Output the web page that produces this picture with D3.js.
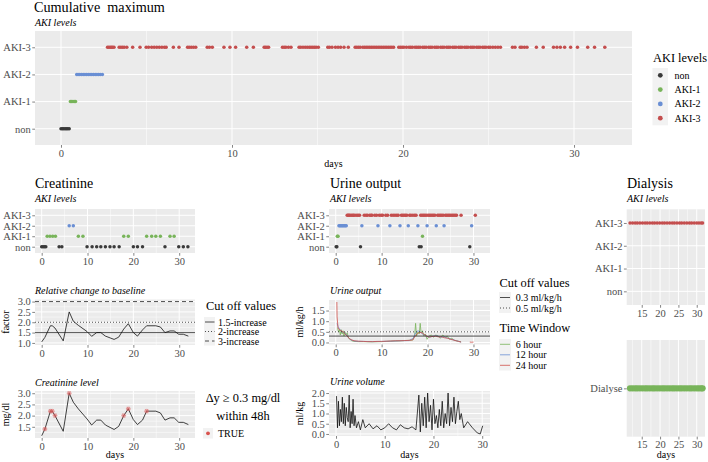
<!DOCTYPE html>
<html><head><meta charset="utf-8">
<script src="https://cdn.jsdelivr.net/npm/d3@7"></script>
<style>
body{margin:0;background:#fff;}
svg text{font-family:'Liberation Serif','Times New Roman',serif !important;}
</style></head><body>
<script>
// ---------------- DATA ----------------
const akiLevels = ['non','AKI-1','AKI-2','AKI-3'];
const akiColors = ['#3a3a3a','#78b45a','#6a8fd4','#c44e4e'];

// Cumulative maximum (time in days per AKI level)
const cumNonT  = [0.0, 0.08, 0.16, 0.24, 0.32, 0.4, 0.48];
const cumAki1T = [0.55, 0.62, 0.7, 0.78, 0.85];
const cumAki2T = [0.92, 1.0, 1.1, 1.2, 1.3, 1.4, 1.5, 1.6, 1.7, 1.8, 1.9, 2.0, 2.1, 2.2, 2.3, 2.42];
const cumAki3T = [2.72, 2.8, 2.88, 2.95, 3.02, 3.1, 3.4, 3.5, 3.6, 3.7, 3.85, 4.19, 4.62, 4.98, 5.12, 5.3, 5.45, 5.6, 5.75, 5.9, 6.05, 6.15,
  6.57, 6.9, 7.4, 7.5, 7.62, 7.75, 7.88, 8.55, 8.68, 8.85, 9.53, 9.88, 10.21, 10.86, 11.25, 11.88, 11.96, 12.05, 12.14,
  12.95, 13.05, 13.15, 13.3, 13.45, 13.92, 14.02, 14.15, 14.28, 14.4, 14.52, 14.62, 14.72, 14.82, 14.92, 15.05, 15.6, 15.7, 15.85,
  16.05, 16.2, 16.35, 16.55, 16.8, 17.2, 17.3, 17.4, 17.5, 17.65, 17.75, 17.85, 17.95, 18.05, 18.15, 18.25, 18.35, 18.45, 18.55,
  18.65, 18.75, 18.85, 18.95, 19.05, 19.15, 19.25, 19.35, 19.45, 19.75, 19.85, 19.95, 20.05, 20.2, 20.35, 20.45, 20.55, 20.7, 20.8,
  20.9, 21.0, 21.15, 21.25, 21.35, 21.5, 21.6, 21.7, 21.85, 21.95, 22.05, 22.2, 22.3, 22.4, 22.55, 22.65, 22.75, 22.9, 23.0, 23.1,
  23.25, 23.35, 23.45, 23.6, 23.7, 23.8, 23.95, 24.05, 24.15, 24.3, 24.4, 24.5, 24.65, 24.75, 24.85, 25.0, 25.1, 25.25, 25.4, 25.55,
  25.7, 26.4, 26.55, 26.85, 26.95, 27.1, 27.25, 27.8, 28.2, 28.8, 29.0, 29.2, 29.45, 29.8, 30.2, 30.8, 31.2, 31.8];

// Creatinine: AKI levels
const creaNonT  = [0.0, 0.3, 0.6, 0.9, 3.8, 4.4, 9.9, 11.0, 12.0, 12.9, 13.9, 14.9, 15.8, 16.9, 20.0, 20.9, 22.0, 26.9, 29.9, 30.9, 31.9];
const creaAki1T = [1.2, 1.8, 2.4, 3.0, 8.0, 9.0, 17.9, 18.9, 22.9, 24.0, 24.9, 25.9, 28.0, 28.9];
const creaAki2T = [6.0, 6.9];
const creaAki3T = [];

// Creatinine measurements
const creaT     = [0, 0.7, 1.9, 2.3, 2.9, 4.7, 6, 6.9, 8, 9.9, 10.9, 12, 12.9, 13.9, 15.8, 16.8, 17.9, 18.9, 20, 20.9, 22, 22.9, 24.9, 25.9, 26.9, 28, 28.9, 29.9, 30.9, 32];
const creaLevel = [1.1, 1.4, 2.2, 2.2, 2.0, 1.3, 3.0, 2.6, 2.3, 1.85, 1.58, 1.8, 1.8, 1.58, 1.38, 1.52, 2.0, 2.3, 1.82, 1.6, 1.8, 2.2, 2.2, 2.12, 1.8, 1.9, 1.9, 1.7, 1.7, 1.6];
const creaRel   = [1.05, 1.27, 1.83, 1.83, 1.72, 1.1, 2.5, 2.05, 1.85, 1.55, 1.32, 1.5, 1.5, 1.33, 1.17, 1.28, 1.67, 1.93, 1.5, 1.33, 1.63, 1.83, 1.83, 1.77, 1.5, 1.58, 1.58, 1.42, 1.42, 1.33];
const creaFlag  = [false, true, true, true, true, false, true, false, false, false, false, false, false, false, false, false, true, true, false, false, false, true, false, false, false, false, false, false, false, false];
const relCutValues = [1.5, 2, 3];
const relCutLabels = ['1.5-increase', '2-increase', '3-increase'];

// Urine output: AKI levels
const urNonT  = [0.1, 0.25, 5.4, 18.2, 18.6, 29.2];
const urAki1T = [0.35, 0.5, 18.9];
const urAki2T = [0.7, 0.9, 1.1, 1.3, 1.5, 1.7, 1.9, 2.1, 2.3, 5.7, 9.2, 11.8, 14.0, 15.8, 17.9, 19.9, 21.9, 23.6, 29.6];
const urAki3T = [2.5, 2.7, 2.9, 3.1, 3.4, 3.7, 3.9, 4.2, 4.6, 4.9, 5.2, 6.2, 6.6, 6.9, 7.4, 7.7, 7.9, 8.5, 8.9, 9.5, 9.9, 10.2,
  10.9, 11.3, 12.1, 12.5, 12.9, 13.3, 13.6, 14.3, 14.6, 14.9, 15.2, 15.5, 16.1, 16.4, 16.8, 17.2, 17.5, 18.5, 18.8, 19.1, 19.4,
  19.7, 20.1, 20.4, 20.7, 21.0, 21.3, 21.6, 22.2, 22.5, 22.8, 23.1, 23.4, 23.9, 24.2, 24.5, 24.8, 25.1, 25.4, 25.7, 26.0, 26.3, 27.3, 30.4];

// Urine output (ml/kg/h) per time window
const u6T  = [0.4, 0.6, 0.8, 1.0, 1.2, 1.4, 1.6, 1.8, 2.0, 2.2, 2.5, 2.8, 3.1, 3.5, 4.0, 5, 6, 8, 10, 12, 14, 16, 16.8, 17.2, 17.4, 17.6, 17.9, 18.2, 18.4, 18.6, 18.9, 19.2, 19.5, 19.9, 20.3, 20.8, 21.3, 21.8, 22.3, 22.8, 23.3, 23.8, 24.3, 24.8, 25.3, 25.8, 26.3, 26.8, 27.3];
const u6V  = [0.7, 0.5, 0.6, 0.35, 0.6, 0.4, 0.55, 0.3, 0.5, 0.35, 0.45, 0.2, 0.15, 0.08, 0.05, 0.04, 0.04, 0.03, 0.04, 0.06, 0.08, 0.1, 0.12, 0.35, 0.9, 0.3, 0.5, 0.4, 0.9, 0.45, 0.55, 0.3, 0.4, 0.15, 0.3, 0.35, 0.25, 0.35, 0.3, 0.2, 0.35, 0.25, 0.3, 0.15, 0.2, 0.1, 0.08, 0.05, 0.03];
const u12T = [0.3, 0.5, 0.8, 1.1, 1.5, 1.9, 2.3, 2.7, 3.1, 3.6, 4.2, 5, 6, 8, 10, 12, 14, 16, 16.9, 17.4, 17.9, 18.4, 18.9, 19.4, 19.9, 20.5, 21.2, 22, 22.8, 23.6, 24.4, 25.2, 26, 26.8, 27.3];
const u12V = [0.9, 0.75, 0.65, 0.55, 0.5, 0.45, 0.38, 0.25, 0.15, 0.1, 0.06, 0.05, 0.05, 0.04, 0.05, 0.06, 0.08, 0.09, 0.2, 0.45, 0.55, 0.5, 0.4, 0.35, 0.28, 0.25, 0.3, 0.32, 0.25, 0.27, 0.2, 0.15, 0.1, 0.05, 0.02];
const u24T = [0.25, 0.3, 0.5, 0.8, 1.2, 1.6, 2.0, 2.5, 3.0, 3.5, 4, 5, 6, 7, 8, 9, 10, 11, 12, 13, 14, 15, 16, 16.8, 17.3, 17.8, 18.3, 18.8, 19.3, 19.8, 20.3, 21, 21.7, 22.4, 23, 23.7, 24.4, 25, 25.6, 26.2, 26.8, 27.3, 28.2, 29.2, 29.6, 30.0];
const u24V = [1.9, 1.2, 0.7, 0.6, 0.55, 0.5, 0.42, 0.3, 0.18, 0.12, 0.08, 0.06, 0.05, 0.04, 0.04, 0.05, 0.05, 0.06, 0.07, 0.08, 0.08, 0.09, 0.1, 0.12, 0.3, 0.42, 0.48, 0.45, 0.38, 0.3, 0.25, 0.28, 0.3, 0.26, 0.27, 0.22, 0.2, 0.15, 0.12, 0.08, 0.05, 0.02, null, 0.02, 0.01, 0.02];
const windowLabels = ['6 hour', '12 hour', '24 hour'];
const windowColors = ['#78b45a', '#6a8fd4', '#d0504a'];
const uoCutValues = [0.3, 0.5];
const uoCutLabels = ['0.3 ml/kg/h', '0.5 ml/kg/h'];

// Urine volume (ml/kg)
const uvT = [0.1, 0.3, 0.5, 0.7, 0.9, 1.1, 1.3, 1.5, 1.7, 1.9, 2.1, 2.3, 2.5, 2.7, 2.9, 3.1, 3.3, 3.5, 3.7, 3.9, 4.2, 4.6, 5.0, 5.5, 6.0, 6.8, 7.6, 8.4, 9.2, 10.0, 10.8, 11.6, 12.4, 13.2, 14.0, 14.8, 15.6, 16.4, 17.0, 17.3, 17.6, 17.9, 18.2, 18.5, 18.8, 19.1, 19.4, 19.7, 20.0, 20.3, 20.6, 20.9, 21.2, 21.5, 21.8, 22.1, 22.4, 22.7, 23.0, 23.3, 23.6, 23.9, 24.2, 24.5, 24.8, 25.1, 25.4, 25.7, 26.2, 27.0, 28.0, 29.0, 29.6, 30.1];
const uvV = [1.85, 0.3, 1.6, 0.4, 1.2, 0.6, 1.8, 0.5, 1.5, 0.4, 1.3, 0.8, 0.6, 1.9, 0.3, 1.1, 0.5, 1.7, 0.4, 0.9, 0.3, 0.6, 0.2, 0.7, 0.3, 0.5, 0.25, 0.4, 0.2, 0.3, 0.5, 0.3, 0.2, 0.45, 0.3, 0.25, 0.35, 0.2, 1.9, 0.1, 1.5, 0.4, 1.8, 0.3, 2.0, 0.6, 1.4, 0.2, 1.7, 0.5, 0.9, 0.3, 1.2, 0.4, 1.6, 0.3, 1.0, 0.5, 2.0, 0.4, 1.3, 0.6, 1.8, 0.5, 1.1, 1.6, 0.7, 1.0, 0.3, 0.6, 0.3, 0.05, 0.0, 0.4];

// Dialysis
const dialT = [11.8, 12.5, 13.2, 13.8, 14.5, 15.2, 15.9, 16.5, 17.2, 17.9, 18.5, 19.2, 19.9, 20.6, 21.2, 21.9, 22.6, 23.3, 23.9, 24.6, 25.3, 25.9, 26.6, 27.3, 28.0, 28.6, 29.3, 30.0, 30.6, 31.2, 31.6];
const dialLevel = 'AKI-3';
const dialCats = ['Dialyse'];

// Tick values
const dayTicks = [0, 10, 20, 30];
const dialTicks = [15, 20, 25, 30];
const relTicks = [1.0, 1.5, 2.0, 2.5, 3.0];
const levelTicks = [1.5, 2.0, 2.5, 3.0];
const uoTicks = [0.0, 0.5, 1.0, 1.5];
const uvTicks = [0.0, 0.5, 1.0, 1.5, 2.0];

// ---------------- DRAWING ----------------
const svg = d3.select('body').append('svg').attr('width', 708).attr('height', 462);
const FONT = "'Liberation Serif','Times New Roman',serif";

function txt(x, y, s, o = {}) {
  const t = svg.append('text').attr('x', x).attr('y', y).text(s)
    .attr('font-size', o.size || 10).attr('fill', o.fill || '#000').style('font-family', FONT);
  if (o.italic) t.attr('font-style', 'italic');
  if (o.anchor) t.attr('text-anchor', o.anchor);
  if (o.rotate) t.attr('transform', `rotate(-90,${x},${y})`);
  if (o.pre) t.style('white-space', 'pre');
  return t;
}

function minorsOf(ticks, dom) {
  const s = ticks[1] - ticks[0], out = [];
  for (let v = ticks[0] - s / 2; v <= dom[1] + 1e-9; v += s) if (v >= dom[0]) out.push(v);
  return out;
}

function panel(p) {
  const g = svg.append('g');
  g.append('rect').attr('x', p.x0).attr('y', p.y0).attr('width', p.w).attr('height', p.h).attr('fill', '#ebebeb');
  const x = d3.scaleLinear().domain(p.xDomain).range([p.x0, p.x0 + p.w]);
  const y = p.cats ? d3.scalePoint().domain(p.cats).range([p.y0 + p.h, p.y0]).padding(0.6)
                   : d3.scaleLinear().domain(p.yDomain).range([p.y0 + p.h, p.y0]);
  minorsOf(p.xTicks, p.xDomain).forEach(v => g.append('line').attr('x1', x(v)).attr('x2', x(v))
    .attr('y1', p.y0).attr('y2', p.y0 + p.h).attr('stroke', '#fff').attr('stroke-width', 0.5));
  if (!p.cats) minorsOf(p.yTicks, p.yDomain).forEach(v => g.append('line').attr('y1', y(v)).attr('y2', y(v))
    .attr('x1', p.x0).attr('x2', p.x0 + p.w).attr('stroke', '#fff').attr('stroke-width', 0.5));
  p.xTicks.forEach(v => g.append('line').attr('x1', x(v)).attr('x2', x(v))
    .attr('y1', p.y0).attr('y2', p.y0 + p.h).attr('stroke', '#fff').attr('stroke-width', 1));
  (p.cats || p.yTicks).forEach(v => g.append('line').attr('y1', y(v)).attr('y2', y(v))
    .attr('x1', p.x0).attr('x2', p.x0 + p.w).attr('stroke', '#fff').attr('stroke-width', 1));
  const ax = svg.append('g').attr('transform', `translate(0,${p.y0 + p.h})`)
    .call(d3.axisBottom(x).tickValues(p.xTicks).tickSize(2.75).tickPadding(1.5).tickFormat(d3.format('d')));
  const ay = svg.append('g').attr('transform', `translate(${p.x0},0)`)
    .call(p.cats ? d3.axisLeft(y).tickSize(2.75).tickPadding(1.5)
                 : d3.axisLeft(y).tickValues(p.yTicks).tickSize(2.75).tickPadding(1.5).tickFormat(d3.format('.1f')));
  [ax, ay].forEach(a => {
    a.select('.domain').remove();
    a.attr('font-family', FONT).attr('font-size', 10);
    a.selectAll('line').attr('stroke', '#333').attr('stroke-width', 0.6);
    a.selectAll('text').attr('fill', '#4d4d4d').style('font-size', '10.5px').style('font-family', FONT);
  });
  return { g, x, y };
}

function akiDots(P, lists, r) {
  lists.forEach((arr, i) => {
    P.g.selectAll(null).data(arr).enter().append('circle')
      .attr('cx', d => P.x(d)).attr('cy', P.y(akiLevels[i])).attr('r', r).attr('fill', akiColors[i]);
  });
}

// ---- Cumulative maximum ----
txt(34, 12, 'Cumulative  maximum', { size: 14.2, pre: true });
txt(35, 25.5, 'AKI levels', { italic: true });
const P0 = panel({ x0: 35, y0: 31, w: 597, h: 114, xDomain: [-1.52, 33.39], xTicks: dayTicks, cats: akiLevels });
akiDots(P0, [cumNonT, cumAki1T, cumAki2T, cumAki3T], 1.75);
txt(333.5, 167, 'days', { anchor: 'middle' });
txt(653, 62, 'AKI levels', { size: 12.4 });
svg.append('rect').attr('x', 652.5).attr('y', 68).attr('width', 15.5).attr('height', 57.3).attr('fill', '#f2f2f2');
akiLevels.forEach((l, i) => {
  const cy = 75.3 + i * 14.3;
  svg.append('circle').attr('cx', 660.3).attr('cy', cy).attr('r', 2.4).attr('fill', akiColors[i]);
  txt(674.5, cy + 3.5, l);
});

// ---- Creatinine ----
txt(35, 188, 'Creatinine', { size: 14 });
txt(35, 202, 'AKI levels', { italic: true });
const P1 = panel({ x0: 35, y0: 209, w: 160, h: 44, xDomain: [-1.46, 33.45], xTicks: dayTicks, cats: akiLevels });
akiDots(P1, [creaNonT, creaAki1T, creaAki2T, creaAki3T], 1.75);

txt(35, 294, 'Relative change to baseline', { italic: true });
const P2 = panel({ x0: 35, y0: 299.5, w: 160, h: 45.5, xDomain: [-1.46, 33.45], xTicks: dayTicks, yDomain: [0.9, 3.1], yTicks: relTicks });
const dashes = [null, '1,2', '4,3'];
relCutValues.forEach((v, i) => P2.g.append('line').attr('x1', 35).attr('x2', 195).attr('y1', P2.y(v)).attr('y2', P2.y(v))
  .attr('stroke', i === 0 ? '#555' : '#222').attr('stroke-width', i === 0 ? 1 : 0.8).attr('stroke-dasharray', dashes[i]));
const creaData = d3.range(creaT.length).map(i => ({ t: creaT[i], lev: creaLevel[i], rel: creaRel[i], flag: creaFlag[i] }));
P2.g.append('path').datum(creaData).attr('fill', 'none').attr('stroke', '#111').attr('stroke-width', 0.8)
  .attr('d', d3.line().x(d => P2.x(d.t)).y(d => P2.y(d.rel)));
txt(9, 322, 'factor', { rotate: true, anchor: 'middle' });
txt(206, 310, 'Cut off values', { size: 12.4 });
svg.append('rect').attr('x', 204).attr('y', 317).attr('width', 11).attr('height', 28.5).attr('fill', '#f2f2f2');
relCutLabels.forEach((l, i) => {
  const cy = 322 + i * 9.5;
  svg.append('line').attr('x1', 205).attr('x2', 214.5).attr('y1', cy).attr('y2', cy).attr('stroke', '#222')
    .attr('stroke-width', 0.8).attr('stroke-dasharray', dashes[i]);
  txt(218, cy + 3.5, l);
});

txt(35, 386, 'Creatinine level', { italic: true });
const P3 = panel({ x0: 35, y0: 391, w: 160, h: 47, xDomain: [-1.46, 33.45], xTicks: dayTicks, yDomain: [1.0, 3.1], yTicks: levelTicks });
P3.g.append('path').datum(creaData).attr('fill', 'none').attr('stroke', '#111').attr('stroke-width', 0.8)
  .attr('d', d3.line().x(d => P3.x(d.t)).y(d => P3.y(d.lev)));
creaData.filter(d => d.flag).forEach(d => {
  const cx = P3.x(d.t), cy = P3.y(d.lev);
  P3.g.append('circle').attr('cx', cx).attr('cy', cy).attr('r', 2.3).attr('fill', '#e06a6a').attr('opacity', 0.45);
  [0, 60, 120].forEach(a => {
    const dx = 2.4 * Math.cos(a * Math.PI / 180), dy = 2.4 * Math.sin(a * Math.PI / 180);
    P3.g.append('line').attr('x1', cx - dx).attr('x2', cx + dx).attr('y1', cy - dy).attr('y2', cy + dy)
      .attr('stroke', '#d05050').attr('stroke-width', 0.5).attr('opacity', 0.7);
  });
});
txt(9, 414.5, 'mg/dl', { rotate: true, anchor: 'middle' });
txt(115, 458, 'days', { anchor: 'middle' });
txt(243, 402, 'Δy ≥ 0.3 mg/dl', { size: 12.4, anchor: 'middle' });
txt(243, 419.5, 'within 48h', { size: 12.4, anchor: 'middle' });
svg.append('rect').attr('x', 203).attr('y', 428).attr('width', 10).attr('height', 10.5).attr('fill', '#f2f2f2');
svg.append('circle').attr('cx', 208).attr('cy', 433.3).attr('r', 1.9).attr('fill', '#d9534f');
txt(218, 437, 'TRUE');

// ---- Urine output ----
txt(330, 188, 'Urine output', { size: 14 });
txt(330, 202, 'AKI levels', { italic: true });
const P4 = panel({ x0: 329, y0: 209, w: 161, h: 44, xDomain: [-1.46, 33.6], xTicks: dayTicks, cats: akiLevels });
akiDots(P4, [urNonT, urAki1T, urAki2T, urAki3T], 1.75);

txt(330, 294, 'Urine output', { italic: true });
const P5 = panel({ x0: 329, y0: 300, w: 161, h: 44.5, xDomain: [-1.46, 33.6], xTicks: dayTicks, yDomain: [-0.095, 1.995], yTicks: uoTicks });
[[u6T, u6V], [u12T, u12V], [u24T, u24V]].forEach(([T, V], i) => {
  const data = T.map((t, k) => ({ t, v: V[k] }));
  P5.g.append('path').datum(data).attr('fill', 'none').attr('stroke', windowColors[i]).attr('stroke-width', 0.8)
    .attr('d', d3.line().defined(d => d.v != null).x(d => P5.x(d.t)).y(d => P5.y(d.v)));
});
uoCutValues.forEach((v, i) => P5.g.append('line').attr('x1', 329).attr('x2', 490).attr('y1', P5.y(v)).attr('y2', P5.y(v))
  .attr('stroke', '#222').attr('stroke-width', 0.8).attr('stroke-dasharray', i === 0 ? null : '1,2'));
txt(303, 322, 'ml/kg/h', { rotate: true, anchor: 'middle' });
txt(499.5, 287, 'Cut off values', { size: 12.4 });
svg.append('rect').attr('x', 499).attr('y', 292).attr('width', 12).attr('height', 21).attr('fill', '#f2f2f2');
uoCutLabels.forEach((l, i) => {
  const cy = 297.5 + i * 10.5;
  svg.append('line').attr('x1', 500).attr('x2', 510).attr('y1', cy).attr('y2', cy).attr('stroke', '#222')
    .attr('stroke-width', 0.8).attr('stroke-dasharray', i === 0 ? null : '1,2');
  txt(515.7, cy + 3.5, l);
});
txt(499.5, 332, 'Time Window', { size: 12.4 });
svg.append('rect').attr('x', 499).attr('y', 339).attr('width', 12).attr('height', 31.5).attr('fill', '#f2f2f2');
windowLabels.forEach((l, i) => {
  const cy = 344.3 + i * 10.5;
  svg.append('line').attr('x1', 500).attr('x2', 510).attr('y1', cy).attr('y2', cy).attr('stroke', windowColors[i]).attr('stroke-width', 0.8);
  txt(515.7, cy + 3.5, l);
});

txt(330, 385, 'Urine volume', { italic: true });
const P6 = panel({ x0: 329, y0: 391, w: 161, h: 45, xDomain: [-1.44, 31.6], xTicks: dayTicks, yDomain: [-0.1, 2.1], yTicks: uvTicks });
P6.g.append('path').datum(uvT.map((t, k) => ({ t, v: uvV[k] }))).attr('fill', 'none').attr('stroke', '#111').attr('stroke-width', 0.8)
  .attr('d', d3.line().x(d => P6.x(d.t)).y(d => P6.y(d.v)));
txt(303, 413.5, 'ml/kg', { rotate: true, anchor: 'middle' });
txt(409.5, 458, 'days', { anchor: 'middle' });

// ---- Dialysis ----
txt(627, 188, 'Dialysis', { size: 14 });
txt(627, 202, 'AKI levels', { italic: true });
const P7 = panel({ x0: 626.7, y0: 209.3, w: 78.3, h: 95.7, xDomain: [10.9, 32.25], xTicks: dialTicks, cats: akiLevels });
P7.g.selectAll(null).data(dialT).enter().append('circle')
  .attr('cx', d => P7.x(d)).attr('cy', P7.y(dialLevel)).attr('r', 1.75).attr('fill', akiColors[akiLevels.indexOf(dialLevel)]);
const P8 = panel({ x0: 626.7, y0: 340, w: 78.3, h: 96.7, xDomain: [10.9, 32.25], xTicks: dialTicks, cats: dialCats });
P8.g.selectAll(null).data(dialT).enter().append('circle')
  .attr('cx', d => P8.x(d)).attr('cy', P8.y(dialCats[0])).attr('r', 3.1).attr('fill', '#78b45a');
txt(666, 458, 'days', { anchor: 'middle' });
</script></body></html>
